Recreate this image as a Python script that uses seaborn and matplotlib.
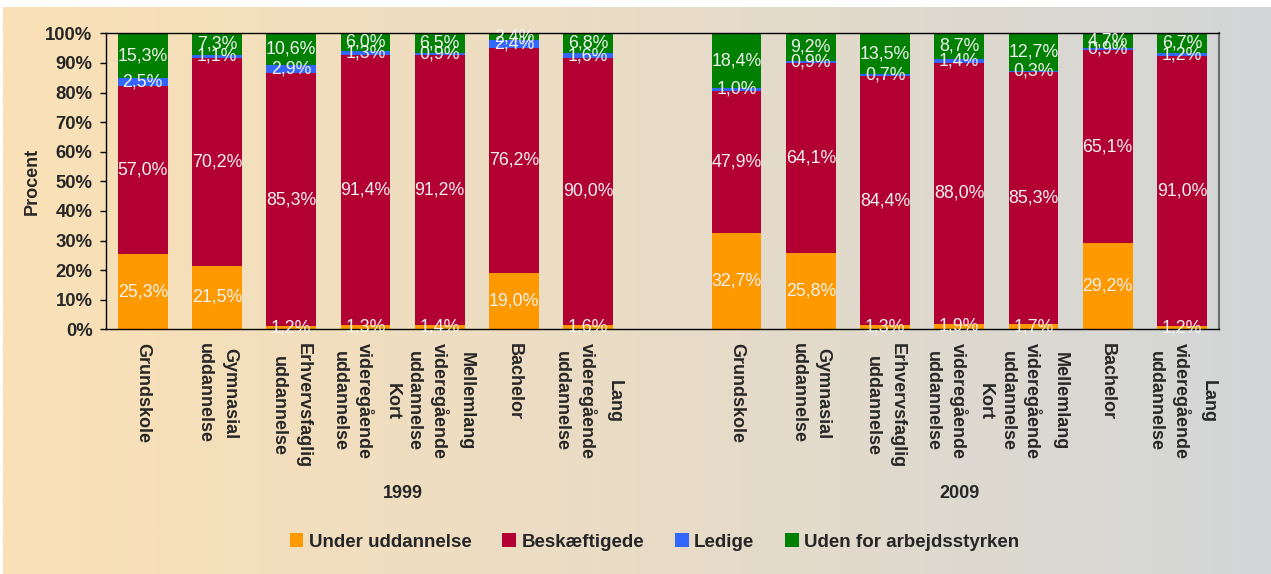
import matplotlib
matplotlib.use("Agg")
import matplotlib.pyplot as plt
import numpy as np
import pandas as pd
import seaborn as sns
from matplotlib.colors import LinearSegmentedColormap
from matplotlib.patches import Patch

# --- data ------------------------------------------------------------------ #

educations = [
    "Grundskole",
    "Gymnasial\nuddannelse",
    "Erhvervsfaglig\nuddannelse",
    "Kort\nvideregående\nuddannelse",
    "Mellemlang\nvideregående\nuddannelse",
    "Bachelor",
    "Lang\nvideregående\nuddannelse",
]
years = ["1999", "2009"]
statuses = ["Under uddannelse", "Beskæftigede", "Ledige", "Uden for arbejdsstyrken"]
colors = ["#FF9900", "#B30033", "#3366FF", "#008000"]

under_1999 = [25.3, 21.5, 1.2, 1.3, 1.4, 19.0, 1.6]
besk_1999 = [57.0, 70.2, 85.3, 91.4, 91.2, 76.2, 90.0]
ledige_1999 = [2.5, 1.1, 2.9, 1.3, 0.9, 2.4, 1.6]
uden_1999 = [15.3, 7.3, 10.6, 6.0, 6.5, 2.4, 6.8]

under_2009 = [32.7, 25.8, 1.3, 1.9, 1.7, 29.2, 1.2]
besk_2009 = [47.9, 64.1, 84.4, 88.0, 85.3, 65.1, 91.0]
ledige_2009 = [1.0, 0.9, 0.7, 1.4, 0.3, 0.9, 1.2]
uden_2009 = [18.4, 9.2, 13.5, 8.7, 12.7, 4.7, 6.7]

values = {
    "1999": [under_1999, besk_1999, ledige_1999, uden_1999],
    "2009": [under_2009, besk_2009, ledige_2009, uden_2009],
}

# long table with bottoms / tops for stacking
rows = []
for year in years:
    for j, edu in enumerate(educations):
        bottom = 0.0
        for s, status in enumerate(statuses):
            v = values[year][s][j]
            rows.append({"key": f"{year}|{edu}", "year": year, "edu": edu,
                         "status": status, "value": v,
                         "bottom": bottom, "top": bottom + v})
            bottom += v
df = pd.DataFrame(rows)

# 1999 block, one empty slot, 2009 block
order = [f"1999|{e}" for e in educations] + ["gap"] + [f"2009|{e}" for e in educations]
tick_labels = educations + [""] + educations

# --- figure ---------------------------------------------------------------- #

sns.set_style("ticks")
plt.rcParams["font.family"] = ["Liberation Sans", "DejaVu Sans"]

W, H = 1271, 574
fig = plt.figure(figsize=(W / 100, H / 100), dpi=100)
fig.patch.set_facecolor("white")

# gradient backdrop (peach -> grey)
bg = fig.add_axes([3 / W, 0, 1 - 3 / W, 1 - 7 / H], zorder=-5)
cmap = LinearSegmentedColormap.from_list("bg", ["#FAE1B6", "#E9DCC6", "#D3D6D8"])
bg.imshow(np.linspace(0, 1, 512)[None, :], aspect="auto", cmap=cmap,
          extent=(0, 1, 0, 1))
bg.set_axis_off()

ax = fig.add_axes([105.7 / W, 1 - 329.3 / H, (1219 - 105.7) / W, 296 / H])
ax.set_facecolor("none")

# paint cumulative tops from the highest layer down
for s in reversed(range(len(statuses))):
    sub = df[df["status"] == statuses[s]]
    sns.barplot(data=sub, x="key", y="top", order=order, color=colors[s],
                saturation=1, width=0.67, errorbar=None, linewidth=0, ax=ax)

pos = {k: i for i, k in enumerate(order)}
for _, r in df.iterrows():
    ax.text(pos[r["key"]], r["bottom"] + r["value"] / 2,
            f"{r['value']:.1f}%".replace(".", ","),
            ha="center", va="center", color="#F2F2F2", fontsize=12.8)

ax.set_xlim(-0.5, len(order) - 0.5)
ax.set_ylim(0, 100)
ax.set_yticks(range(0, 101, 10))
ax.set_yticklabels([f"{v}%" for v in range(0, 101, 10)], fontweight="bold", fontsize=13.3)
ax.set_xticks(range(len(order)))
ax.set_xticklabels(tick_labels, fontweight="bold", fontsize=13, rotation=-90,
                   va="top", ha="center", multialignment="center", linespacing=1.6)
ax.tick_params(axis="y", direction="out", length=4.5, width=1, color="black", pad=5)
ax.tick_params(axis="x", length=0, pad=10)
ax.set_xlabel("")
ax.set_ylabel("Procent", fontweight="bold", fontsize=13, labelpad=3)

for side in ["left", "top", "bottom"]:
    ax.spines[side].set_visible(True)
    ax.spines[side].set_color("black")
    ax.spines[side].set_linewidth(1)
ax.spines["right"].set_visible(True)
ax.spines["right"].set_color("#707070")
ax.spines["right"].set_linewidth(1.6)

# year group labels (1999 spans the empty slot too)
ax.text(3.5, (329.3 - 494) / 296, "1999", transform=ax.get_xaxis_transform(),
        ha="center", va="center", fontweight="bold", fontsize=13)
ax.text(11, (329.3 - 494) / 296, "2009", transform=ax.get_xaxis_transform(),
        ha="center", va="center", fontweight="bold", fontsize=13)

handles = [Patch(facecolor=c, edgecolor="none") for c in colors]
fig.legend(handles, statuses, loc="center", bbox_to_anchor=(0.515, 1 - 542 / H),
           ncol=4, frameon=False, prop={"weight": "bold", "size": 13.5},
           handlelength=0.72, handleheight=0.72, handletextpad=0.3,
           columnspacing=1.65)

fig.savefig("out.png", dpi=100)
